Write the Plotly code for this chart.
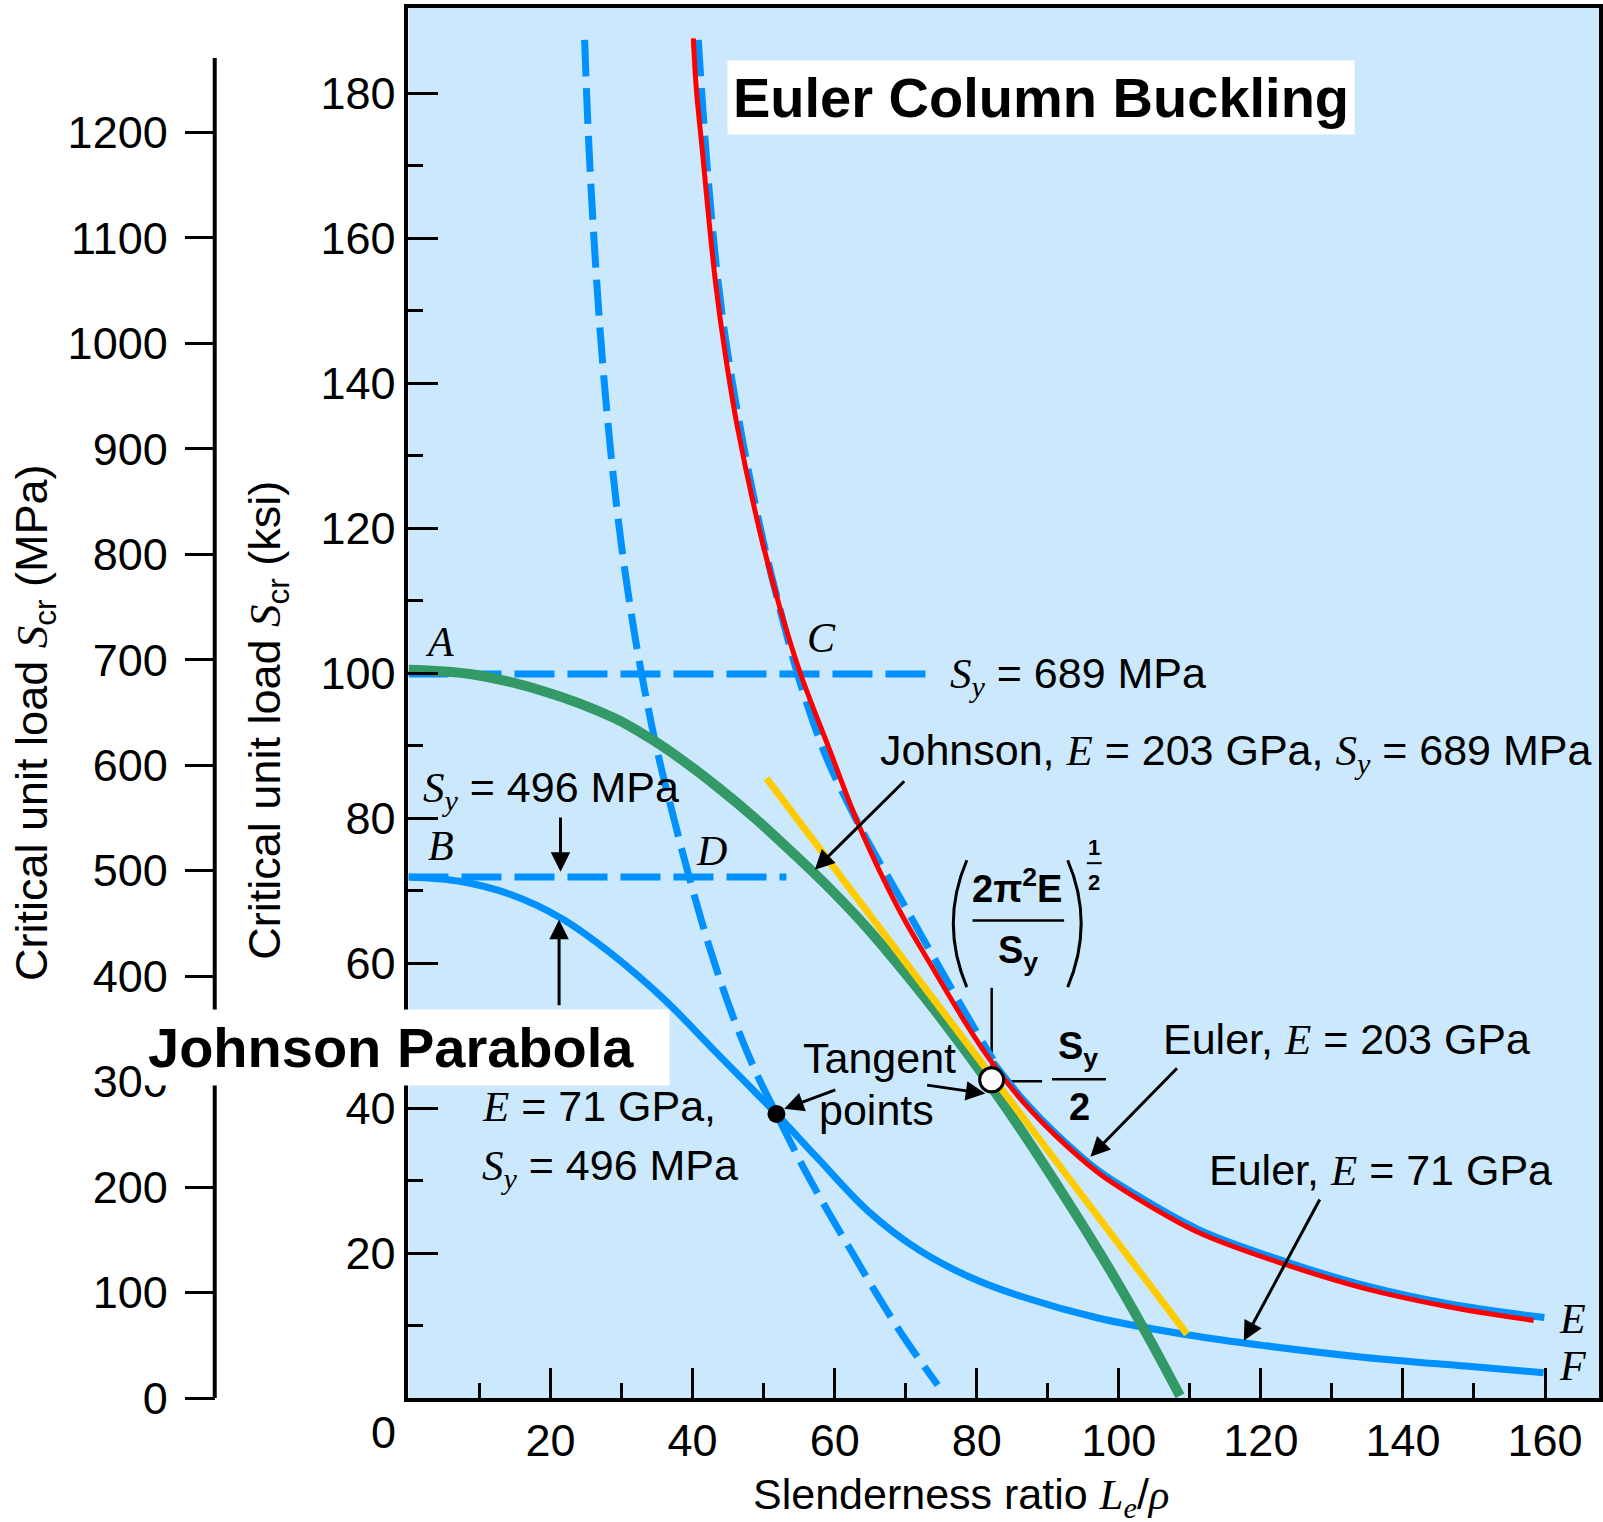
import plotly.graph_objects as go

# ---------------- data ----------------
# slenderness ratio Le/rho  vs  critical unit load (ksi)
euler203_dash_x = [40.8, 41.5, 42.3, 43.3, 44.5, 46.0, 48.0, 50.0, 52.0, 54.3, 56.5, 59.0, 62.0, 65.0, 69.1, 71.4, 74.7, 77.3, 81.3, 82.3]
euler203_dash_y = [187.4, 177.0, 167.0, 156.5, 147.0, 137.8, 127.2, 118.0, 110.0, 101.5, 94.6, 88.0, 81.8, 76.2, 69.2, 65.2, 59.5, 55.0, 48.3, 46.7]

euler203_solid_x = [82.3, 86.4, 91.0, 97.2, 101.8, 111.3, 123.5, 134.7, 146.4, 159.9]
euler203_solid_y = [46.3, 41.3, 36.6, 31.3, 28.4, 23.2, 18.8, 15.5, 13.0, 11.1]

red_x = [40.1, 40.5, 41.4, 42.3, 43.3, 44.6, 46.3, 49.6, 52.5, 55.2, 59.3, 63.5, 69.1, 73.7, 78.4, 81.7, 86.4, 91.0, 97.2, 101.8, 111.3, 123.5, 134.7, 146.4, 158.4]
red_y = [187.6, 180.9, 171.8, 162.5, 153.3, 144.0, 134.0, 119.0, 108.3, 99.9, 89.4, 78.8, 67.3, 59.5, 51.8, 46.9, 41.0, 36.3, 31.0, 28.0, 22.8, 18.4, 15.1, 12.6, 10.7]

curveF_x = [0, 7.2, 14.3, 21.5, 28.7, 36.0, 43.2, 51.8, 57.5, 64.7, 71.9, 79.0, 86.3, 97.2, 109.8, 120.7, 134.7, 148.8, 159.8]
curveF_y = [71.9, 71.3, 69.5, 66.2, 61.2, 55.0, 47.8, 39.2, 33.2, 25.8, 20.4, 16.7, 14.0, 11.0, 8.7, 7.2, 5.6, 4.4, 3.5]

left_dash_x = [24.8, 25.2, 25.7, 26.3, 27.0, 27.8, 28.8, 30.0, 31.4, 32.8, 34.9, 37.4, 39.4, 42.5, 45.7, 48.8, 51.8, 55.5, 58.9, 62.5, 66.0, 70.0, 74.5]
left_dash_y = [187.4, 177.0, 167.0, 157.0, 147.0, 137.5, 127.5, 117.5, 108.0, 100.0, 89.8, 79.8, 72.3, 61.8, 52.6, 45.2, 39.2, 32.0, 26.0, 20.0, 14.2, 8.0, 1.8]

johnson203_x = [0, 8.7, 18.8, 28.8, 33.9, 39.0, 43.9, 48.9, 54.0, 59.1, 64.7, 69.1, 73.7, 78.4, 82.1, 86.3, 93.4, 97.2, 100.6, 104.5, 108.6]
johnson203_y = [100.5, 99.9, 97.6, 93.9, 91.1, 87.7, 84.0, 79.9, 75.3, 70.5, 64.7, 59.6, 54.0, 47.9, 42.9, 36.9, 26.2, 20.2, 14.6, 7.8, 0.3]

tangent_line_x = [50.4, 109.6]
tangent_line_y = [85.5, 8.8]

sy689_x = [0, 74.5]
sy689_y = [99.9, 99.9]
sy496_x = [0, 53.2]
sy496_y = [71.9, 71.9]

tangent_pt_black_x = [51.8]
tangent_pt_black_y = [39.2]
tangent_pt_white_x = [82.1]
tangent_pt_white_y = [43.9]

x_ticks = [20, 40, 60, 80, 100, 120, 140, 160]
x_minor = [10, 30, 50, 70, 90, 110, 130, 150]
ksi_ticks = [20, 40, 60, 80, 100, 120, 140, 160, 180]
ksi_minor = [10, 30, 50, 70, 90, 110, 130, 150, 170]
mpa_ticks = [0, 100, 200, 300, 400, 500, 600, 700, 800, 900, 1000, 1100, 1200]

# ---------------- style ----------------
W, H = 1603, 1522
BG = '#cce8fc'
BLUE = '#0091ff'
RED = '#ff0000'
GREEN = '#339966'
YELLOW = '#ffcc00'
SANS = 'Liberation Sans'
SERIF = 'Liberation Serif'
FS = 43

def it(s):
    return f'<span style="font-family:{SERIF}"><i>{s}</i></span>'

SY = it('S') + '<sub>' + it('y') + '</sub>'

fig = go.Figure()

def line(x, y, color, width, dash=None):
    fig.add_trace(go.Scatter(x=x, y=y, mode='lines',
                             line=dict(color=color, width=width, dash=dash, shape='spline', smoothing=1.0),
                             hoverinfo='skip', showlegend=False))

line(sy689_x, sy689_y, BLUE, 7, '40px,13px')
line(sy496_x, sy496_y, BLUE, 7, '40px,13px')
line(left_dash_x, left_dash_y, BLUE, 7, '36px,12px')
line(euler203_dash_x, euler203_dash_y, BLUE, 7, '36px,12px')
line(euler203_solid_x, euler203_solid_y, BLUE, 7)
line(curveF_x, curveF_y, BLUE, 7)
line(johnson203_x, johnson203_y, GREEN, 10)
line(tangent_line_x, tangent_line_y, YELLOW, 7)
line(red_x, red_y, RED, 5)

fig.add_trace(go.Scatter(x=tangent_pt_black_x, y=tangent_pt_black_y, mode='markers',
                         marker=dict(color='black', size=18), hoverinfo='skip', showlegend=False))
fig.add_trace(go.Scatter(x=tangent_pt_white_x, y=tangent_pt_white_y, mode='markers',
                         marker=dict(color='white', size=24, line=dict(color='black', width=3)),
                         hoverinfo='skip', showlegend=False))
# invisible trace so the MPa axis is drawn
fig.add_trace(go.Scatter(x=[0], y=[0], yaxis='y2', mode='markers', marker=dict(opacity=0),
                         hoverinfo='skip', showlegend=False))

ann = []

def txt(x, y, text, size=FS, xanchor='left', yanchor='middle', xref='x', yref='y', bold=False, **kw):
    d = dict(x=x, y=y, xref=xref, yref=yref, text=(f'<b>{text}</b>' if bold else text),
             showarrow=False, xanchor=xanchor, yanchor=yanchor,
             font=dict(family=SANS, size=size, color='black'))
    d.update(kw)
    ann.append(d)

def arrow(tx, ty, hx, hy):
    ann.append(dict(x=hx, y=hy, ax=tx, ay=ty, xref='x', yref='y', axref='x', ayref='y',
                    text='', showarrow=True, arrowhead=2, arrowsize=1.3, arrowwidth=3,
                    arrowcolor='black', standoff=0))

# point labels
for lab, x, y in [('A', 4.4, 104.3), ('B', 4.6, 76.1), ('C', 58.2, 104.9), ('D', 42.7, 75.5)]:
    txt(x, y, it(lab), size=42, xanchor='center')
txt(163.9, 10.9, it('E'), size=42, xanchor='center')
txt(163.9, 4.4, it('F'), size=42, xanchor='center')

txt(75.9, 99.6, SY + ' = 689 MPa')
txt(66.1, 88.9, 'Johnson, ' + it('E') + ' = 203 GPa, ' + SY + ' = 689 MPa')
txt(1.7, 83.8, SY + ' = 496 MPa')
txt(10.1, 40.3, it('E') + ' = 71 GPa,')
txt(10.1, 31.7, SY + ' = 496 MPa')
txt(55.3, 46.9, 'Tangent')
txt(57.5, 39.7, 'points')
txt(105.9, 49.6, 'Euler, ' + it('E') + ' = 203 GPa')
txt(112.4, 31.4, 'Euler, ' + it('E') + ' = 71 GPa')

# formula (2 pi^2 E / Sy)^(1/2) and Sy/2
txt(85.6, 70.6, '2π<sup>2</sup>E', size=38, xanchor='center', bold=True)
txt(85.8, 61.4, 'S<sub>y</sub>', size=38, xanchor='center', bold=True)
txt(96.5, 76.0, '1', size=22, xanchor='center', bold=True)
txt(96.5, 71.2, '2', size=22, xanchor='center', bold=True)
txt(91.1, 48.1, 'S<sub>y</sub>', size=38, xanchor='left', bold=True)
txt(94.4, 40.2, '2', size=38, xanchor='center', bold=True)

# arrows
arrow(70.0, 85.3, 57.2, 72.9)
arrow(21.4, 80.3, 21.4, 72.6)
arrow(21.2, 54.0, 21.2, 66.0)
arrow(60.3, 42.6, 52.9, 39.9)
arrow(72.8, 43.2, 81.2, 42.0)
arrow(108.4, 45.7, 96.0, 33.3)
arrow(128.4, 27.6, 117.6, 7.9)

# boxed labels
txt(89.1, 179.5, 'Euler Column Buckling', size=56, xanchor='center', bold=True,
    bgcolor='white', borderpad=5)
txt(406.5 / W, 0.2518, 'Johnson Parabola', size=56, xanchor='center', xref='paper', yref='paper',
    bold=True, bgcolor='white', borderpad=6, width=515, align='left')

# axis titles and the corner "0"
txt(0.0212, 0.4856, 'Critical unit load ' + it('S') + '<sub>cr</sub> (MPa)', size=45, xanchor='center',
    xref='paper', yref='paper', textangle=-90)
txt(0.1672, 0.4878, 'Critical unit load ' + it('S') + '<sub>cr</sub> (ksi)', size=45, xanchor='center',
    xref='paper', yref='paper', textangle=-90)
txt(0.600, -0.0717, 'Slenderness ratio ' + it('L') + '<sub>' + it('e') + '</sub>/' + it('ρ'),
    xanchor='center', xref='paper', yref='paper')
txt(0, 0, '0', size=45, xanchor='center', xshift=-25, yshift=-34)

shapes = []
def seg(x0, y0, x1, y1, w=3, layer='above'):
    shapes.append(dict(type='line', x0=x0, y0=y0, x1=x1, y1=y1, xref='x', yref='y',
                       line=dict(color='black', width=w), layer=layer))

seg(82.1, 56.6, 82.1, 43.9, 2.5, 'below')
seg(82.1, 43.7, 89.2, 43.7, 2.5, 'below')
seg(79.4, 65.9, 92.3, 65.9, 2.5)     # main fraction bar
seg(95.5, 73.8, 97.6, 73.8, 2)       # exponent bar
seg(90.6, 44.0, 98.2, 44.0, 2.5)     # Sy/2 bar
# parentheses
shapes.append(dict(type='path', xref='x', yref='y', layer='above',
                   path='M 78.6,74.2 Q 74.8,65.5 78.6,56.7', line=dict(color='black', width=3)))
shapes.append(dict(type='path', xref='x', yref='y', layer='above',
                   path='M 92.8,74.2 Q 96.6,65.5 92.8,56.7', line=dict(color='black', width=3)))
# MPa axis spine
shapes.append(dict(type='line', xref='paper', yref='paper', x0=215 / W, x1=215 / W, y0=0, y1=0.964,
                   line=dict(color='black', width=4), layer='above'))

tickfont = dict(family=SANS, size=45, color='black')
fig.update_layout(
    width=W, height=H,
    margin=dict(l=0, r=0, t=8, b=124),
    paper_bgcolor='white', plot_bgcolor=BG,
    showlegend=False,
    xaxis=dict(domain=[409 / W, 1601 / W], range=[0, 167.6], tickvals=x_ticks,
               ticks='inside', ticklen=30, tickwidth=3, tickcolor='black',
               minor=dict(tickvals=x_minor, ticks='inside', ticklen=15, tickwidth=3, tickcolor='black'),
               showline=True, linewidth=4, linecolor='black', mirror=True,
               showgrid=False, zeroline=False, tickfont=tickfont, ticklabelstandoff=0),
    yaxis=dict(range=[0, 191.8], tickvals=ksi_ticks,
               ticks='inside', ticklen=30, tickwidth=3, tickcolor='black',
               minor=dict(tickvals=ksi_minor, ticks='inside', ticklen=15, tickwidth=3, tickcolor='black'),
               showline=True, linewidth=4, linecolor='black', mirror=True,
               showgrid=False, zeroline=False, tickfont=tickfont, ticklabelstandoff=0),
    yaxis2=dict(overlaying='y', anchor='free', position=215 / W, side='left',
                range=[0, 1318], tickvals=mpa_ticks, ticks='outside', ticklen=30, tickwidth=3,
                tickcolor='black', showline=False, showgrid=False, zeroline=False,
                tickfont=tickfont, ticklabelstandoff=8),
    annotations=ann, shapes=shapes,
)

fig.write_html('out.html', config={'displayModeBar': False},
               post_script="document.body.style.margin='0';")
